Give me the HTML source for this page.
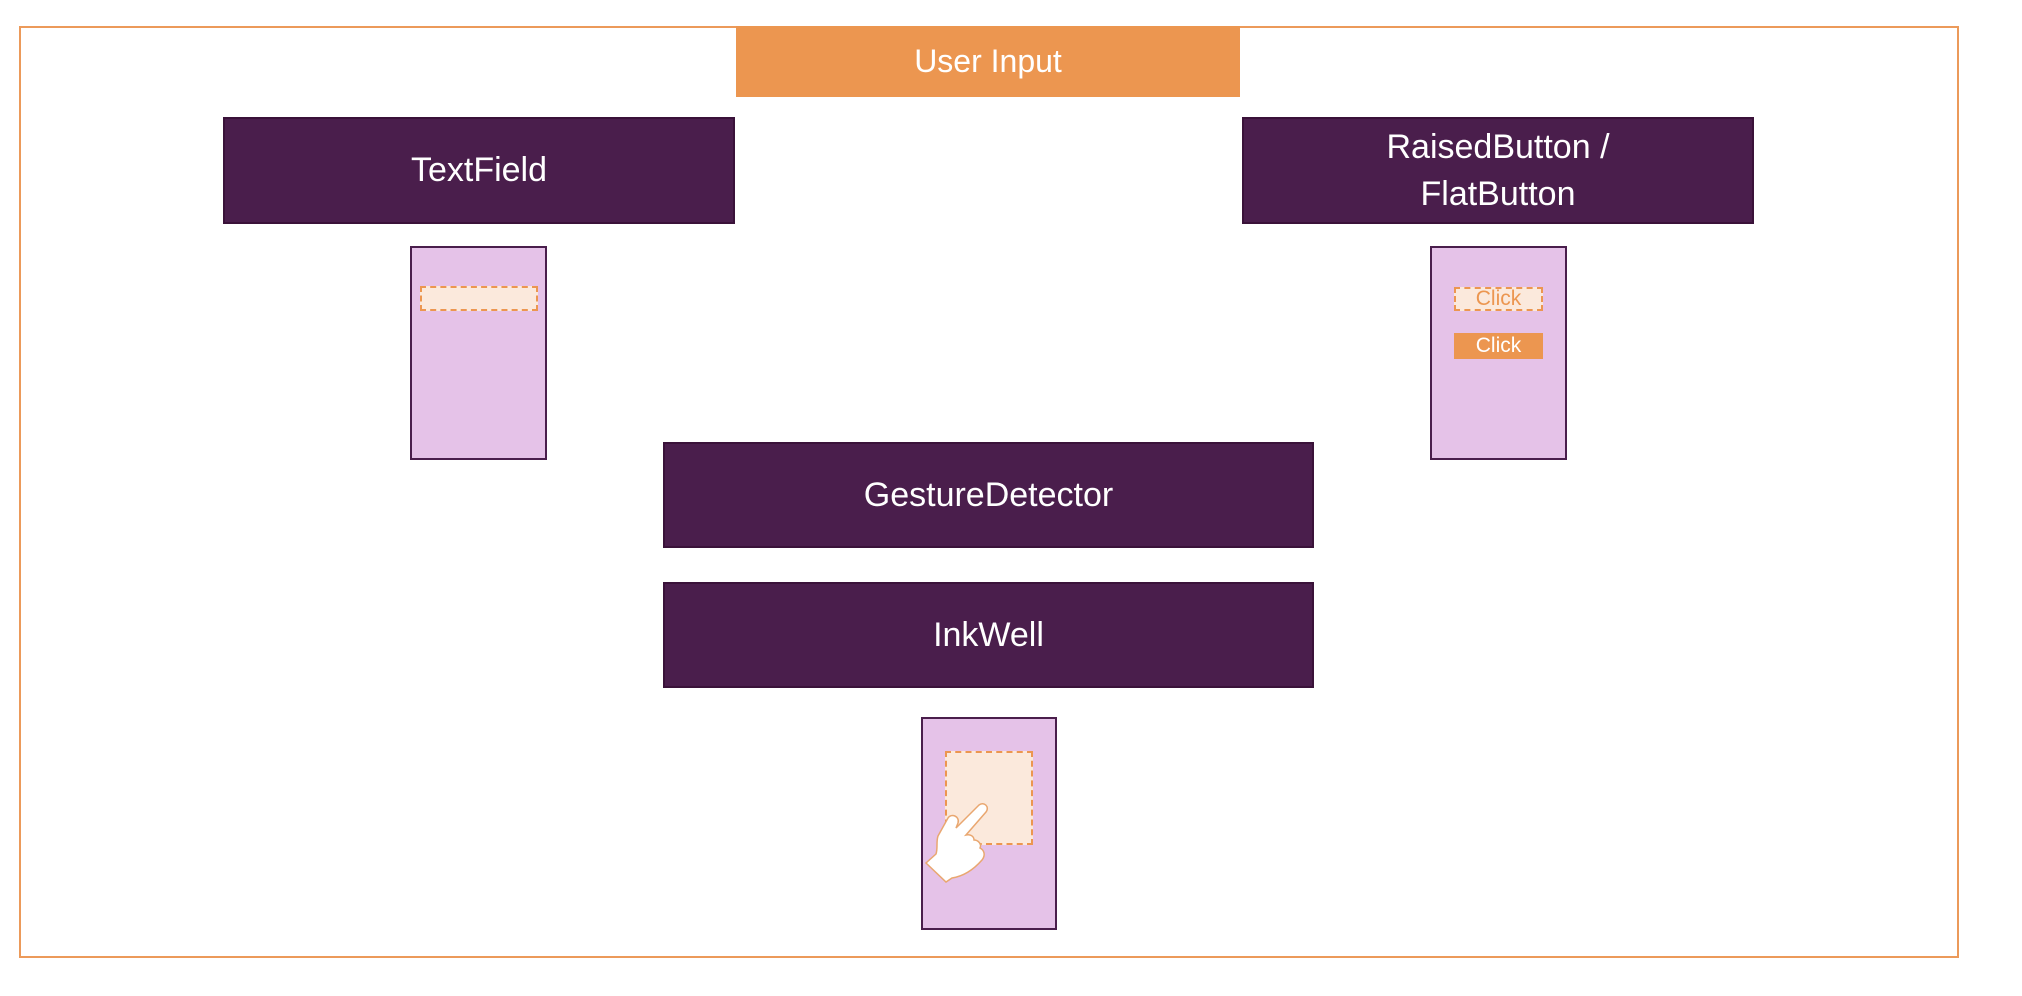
<!DOCTYPE html>
<html><head><meta charset="utf-8"><style>
body{margin:0;width:2022px;height:996px;background:#fff;position:relative;overflow:hidden;font-family:"Liberation Sans",sans-serif}
.a{position:absolute;box-sizing:border-box}
.dk{background:#4a1e4c;border:2px solid #3a1239;color:#fff;display:flex;align-items:center;justify-content:center;text-align:center;font-size:34px;line-height:47px}
.ph{background:#e5c2e8;border:2px solid #4a1e4c}
.ds{background:#fbe9dc;border:2px dashed #ec9650}
</style></head><body>
<div class="a" style="left:19px;top:26px;width:1940px;height:932px;border:2px solid #ec9a5a"></div>
<div class="a" style="left:736px;top:26px;width:504px;height:71px;background:#ec9650;color:#fff;font-size:32px;display:flex;align-items:center;justify-content:center">User Input</div>
<div class="a dk" style="left:223px;top:117px;width:512px;height:107px">TextField</div>
<div class="a dk" style="left:1242px;top:117px;width:512px;height:107px">RaisedButton /<br>FlatButton</div>
<div class="a ph" style="left:410px;top:246px;width:137px;height:214px"></div>
<div class="a ds" style="left:420px;top:286px;width:118px;height:25px"></div>
<div class="a ph" style="left:1430px;top:246px;width:137px;height:214px"></div>
<div class="a ds" style="left:1454px;top:287px;width:89px;height:24px;color:#ec9650;font-size:21px;line-height:20px;text-align:center">Click</div>
<div class="a" style="left:1454px;top:333px;width:89px;height:26px;background:#ec9650;color:#fff;font-size:21px;line-height:26px;text-align:center">Click</div>
<div class="a dk" style="left:663px;top:442px;width:651px;height:106px">GestureDetector</div>
<div class="a dk" style="left:663px;top:582px;width:651px;height:106px">InkWell</div>
<div class="a ph" style="left:921px;top:717px;width:136px;height:213px"></div>
<div class="a ds" style="left:945px;top:751px;width:88px;height:94px"></div>
<svg class="a" style="left:920px;top:790px" width="100" height="100" viewBox="0 0 100 100">
<path d="M6 73 L26 92 L32 88 C45 86 55 78 62 70 C66 65 64 60 60 58 C62 54 58 50 54 50 C54 46 50 44 46 45 L66 22 C70 17 64 11 59 15 L36 38 L38 33 C40 26 31 23 28 28 L18 46 C16 52 18 58 16 64 Z" fill="#fff" stroke="#e9a770" stroke-width="1.5"/>
</svg>
</body></html>
